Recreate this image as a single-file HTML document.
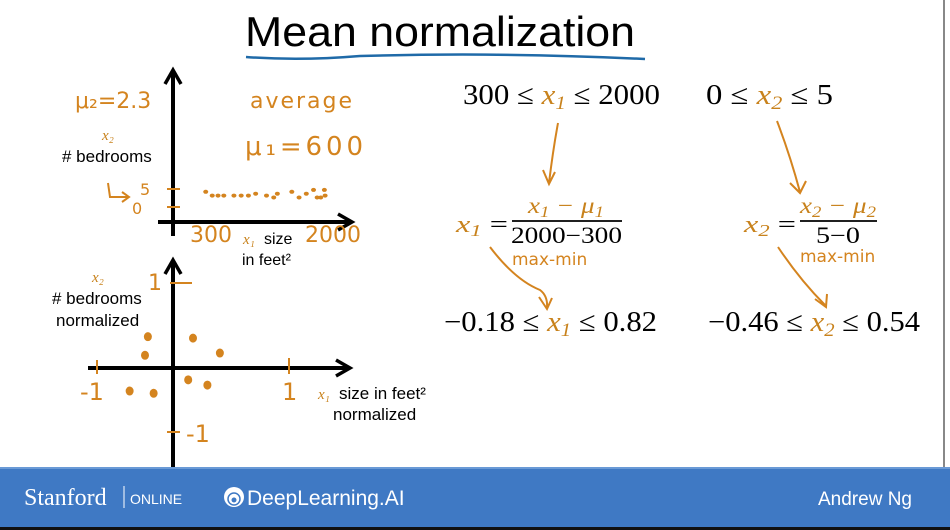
<!DOCTYPE html>
<html><head><meta charset="utf-8"><style>
body{margin:0;width:950px;height:530px;overflow:hidden;background:#fff}
svg{display:block}
.hw{font-family:"Comic Sans MS","DejaVu Sans",sans-serif;fill:#d4841f}
.sans{font-family:"Liberation Sans",sans-serif;fill:#000}
.math{font-family:"Liberation Serif","DejaVu Serif",serif;fill:#000}
.ox{fill:#c8821c;font-style:italic}
</style></head><body>
<svg id="s" width="950" height="530" viewBox="0 0 950 530" xmlns="http://www.w3.org/2000/svg">
<text x="245" y="46" class="sans" font-size="42" textLength="390" lengthAdjust="spacingAndGlyphs">Mean normalization</text>
<path d="M246 57 Q300 61 360 56 Q500 52 645 59" stroke="#1f6aa8" stroke-width="2.5" fill="none"/>
<line x1="944" y1="0" x2="944" y2="468" stroke="#888" stroke-width="2"/>

<g id="top">
<line x1="173" y1="72" x2="173" y2="236" stroke="#000" stroke-width="4"/>
<path d="M165 84 L173 70 L181 84" stroke="#000" stroke-width="3.5" fill="none"/>
<line x1="158" y1="222" x2="350" y2="222" stroke="#000" stroke-width="4"/>
<path d="M338 214 L352 222 L338 230" stroke="#000" stroke-width="3.5" fill="none"/>
<line x1="167" y1="189" x2="180" y2="189" stroke="#d4841f" stroke-width="2"/>
<line x1="167" y1="207" x2="180" y2="207" stroke="#d4841f" stroke-width="2"/>
<text x="140" y="195" class="hw" font-size="16">5</text>
<text x="132" y="214" class="hw" font-size="16">0</text>
<path d="M108 183 L110 197 L128 197 M122 192 L129 197 L122 202" stroke="#d4841f" stroke-width="2" fill="none"/>
<text x="75" y="108" class="hw" font-size="22">μ₂=2.3</text>
<text x="250" y="108" class="hw" font-size="22" textLength="102">average</text>
<text x="245" y="155" class="hw" font-size="26" textLength="118">μ₁=600</text>
<text x="102" y="140" class="math ox" font-size="15">x₂</text>
<text x="62" y="162" class="sans" font-size="17"># bedrooms</text>
<text x="190" y="242" class="hw" font-size="22">300</text>
<text x="305" y="242" class="hw" font-size="22">2000</text>
<text x="243" y="244" class="math ox" font-size="15">x₁</text>
<text x="264" y="244" class="sans" font-size="16">size</text>
<text x="242" y="265" class="sans" font-size="16">in feet²</text>
</g>

<g id="bot">
<line x1="173" y1="262" x2="173" y2="468" stroke="#000" stroke-width="4"/>
<path d="M165 274 L173 260 L181 274" stroke="#000" stroke-width="3.5" fill="none"/>
<line x1="88" y1="368" x2="348" y2="368" stroke="#000" stroke-width="4"/>
<path d="M336 360 L350 368 L336 376" stroke="#000" stroke-width="3.5" fill="none"/>
<line x1="97" y1="360" x2="97" y2="374" stroke="#d4841f" stroke-width="2"/>
<line x1="289" y1="358" x2="289" y2="374" stroke="#d4841f" stroke-width="2"/>
<line x1="170" y1="283" x2="192" y2="283" stroke="#d4841f" stroke-width="2"/>
<line x1="167" y1="432" x2="180" y2="432" stroke="#d4841f" stroke-width="2"/>
<text x="80" y="400" class="hw" font-size="24">-1</text>
<text x="282" y="400" class="hw" font-size="24">1</text>
<text x="148" y="290" class="hw" font-size="22">1</text>
<text x="186" y="442" class="hw" font-size="24">-1</text>
<text x="92" y="282" class="math ox" font-size="15">x₂</text>
<text x="52" y="304" class="sans" font-size="17"># bedrooms</text>
<text x="56" y="326" class="sans" font-size="17">normalized</text>
<text x="318" y="399" class="math ox" font-size="15">x₁</text>
<text x="339" y="399" class="sans" font-size="17">size in feet²</text>
<text x="333" y="420" class="sans" font-size="17">normalized</text>
</g>

<g class="math">
<text x="463" y="104" font-size="28" textLength="197" lengthAdjust="spacingAndGlyphs">300 ≤ <tspan class="ox">x</tspan><tspan class="ox" font-size="19" dy="5">1</tspan><tspan dy="-5"> ≤ 2000</tspan></text>
<text x="706" y="104" font-size="28" textLength="127" lengthAdjust="spacingAndGlyphs">0 ≤ <tspan class="ox">x</tspan><tspan class="ox" font-size="19" dy="5">2</tspan><tspan dy="-5"> ≤ 5</tspan></text>
<path d="M558 123 Q553 150 549 183 M543 170 L549 184 L555 172" stroke="#d4841f" stroke-width="2" fill="none"/>
<path d="M777 121 Q790 155 800 192 M790 183 L800 193 L806 181" stroke="#d4841f" stroke-width="2" fill="none"/>
<text x="456" y="232" font-size="24" textLength="52" lengthAdjust="spacingAndGlyphs"><tspan class="ox">x</tspan><tspan class="ox" font-size="17" dy="4">1</tspan><tspan dy="-4"> =</tspan></text>
<text x="528" y="213" font-size="23" class="ox" textLength="76" lengthAdjust="spacingAndGlyphs">x<tspan font-size="16" dy="4">1</tspan><tspan dy="-4"> − μ</tspan><tspan font-size="16" dy="4">1</tspan></text>
<line x1="512" y1="221" x2="622" y2="221" stroke="#000" stroke-width="1.8"/>
<text x="511" y="243" font-size="23" textLength="111" lengthAdjust="spacingAndGlyphs">2000−300</text>
<text x="744" y="232" font-size="24" textLength="52" lengthAdjust="spacingAndGlyphs"><tspan class="ox">x</tspan><tspan class="ox" font-size="17" dy="4">2</tspan><tspan dy="-4"> =</tspan></text>
<text x="800" y="213" font-size="23" class="ox" textLength="76" lengthAdjust="spacingAndGlyphs">x<tspan font-size="16" dy="4">2</tspan><tspan dy="-4"> − μ</tspan><tspan font-size="16" dy="4">2</tspan></text>
<line x1="800" y1="221" x2="877" y2="221" stroke="#000" stroke-width="1.8"/>
<text x="816" y="243" font-size="23" textLength="44" lengthAdjust="spacingAndGlyphs">5−0</text>
<text x="512" y="265" class="hw" font-size="17">max-min</text>
<text x="800" y="262" class="hw" font-size="17">max-min</text>
<path d="M490 247 Q515 280 540 290 Q548 296 547 308 M539 297 L547 309 L552 298" stroke="#d4841f" stroke-width="2" fill="none"/>
<path d="M778 247 Q800 280 825 305 M815 299 L826 307 L827 294" stroke="#d4841f" stroke-width="2" fill="none"/>
<text x="444" y="331" font-size="28" textLength="213" lengthAdjust="spacingAndGlyphs">−0.18 ≤ <tspan class="ox">x</tspan><tspan class="ox" font-size="19" dy="5">1</tspan><tspan dy="-5"> ≤ 0.82</tspan></text>
<text x="708" y="331" font-size="28" textLength="212" lengthAdjust="spacingAndGlyphs">−0.46 ≤ <tspan class="ox">x</tspan><tspan class="ox" font-size="19" dy="5">2</tspan><tspan dy="-5"> ≤ 0.54</tspan></text>
</g>

<rect x="0" y="467" width="950" height="63" fill="#3f79c4"/>
<rect x="0" y="467" width="950" height="2" fill="#6a9ad6"/>
<rect x="0" y="527" width="950" height="3" fill="#111"/>
<text x="24" y="505" font-family="Liberation Serif,serif" font-size="24" fill="#fff">Stanford</text>
<line x1="124" y1="486" x2="124" y2="508" stroke="#fff" stroke-width="1"/>
<text x="130" y="504" font-family="Liberation Sans,sans-serif" font-size="14" fill="#fff">ONLINE</text>
<circle cx="234" cy="497" r="10" fill="#fff"/>
<circle cx="234" cy="499" r="6" fill="none" stroke="#3f79c4" stroke-width="1.5"/>
<circle cx="234" cy="500" r="2.5" fill="#3f79c4"/>
<text x="247" y="505" font-family="Liberation Sans,sans-serif" font-size="21" fill="#fff">DeepLearning.AI</text>
<text x="818" y="505" font-family="Liberation Sans,sans-serif" font-size="19" fill="#fff">Andrew Ng</text>
</svg>
<script>
// top plot data (size in sqft, bedrooms)
const topSizes = [310, 400, 480, 560, 700, 800, 900, 1000, 1150, 1250, 1300, 1500, 1600, 1700, 1800, 1850, 1900, 1950, 1960];
const topBedrooms = [4, 3, 3, 3, 3, 3, 3, 3.5, 3, 2.5, 3.5, 4, 2.5, 3.5, 4.5, 2.5, 2.5, 4.5, 3];
// bottom plot data (normalized)
const normX = [-0.47, -0.5, 0.0, 0.28, -0.66, -0.41, -0.05, 0.15];
const normY = [0.28, 0.03, 0.26, 0.06, -0.45, -0.48, -0.3, -0.37];
const NS = 'http://www.w3.org/2000/svg';
const sx = v => 205 + (v - 300) * (328 - 205) / 1700;
const sy = v => 207 - v * (207 - 188) / 5;
const nx = v => 193 + v * 96;
const ny = v => 357.5 - v * 74.5;
const topG = document.getElementById('top');
topSizes.forEach((v, i) => {
  const e = document.createElementNS(NS, 'ellipse');
  e.setAttribute('cx', sx(v)); e.setAttribute('cy', sy(topBedrooms[i]));
  e.setAttribute('rx', 2.5); e.setAttribute('ry', 2); e.setAttribute('fill', '#d4841f');
  
  
  topG.appendChild(e);
});
const botG = document.getElementById('bot');
normX.forEach((v, i) => {
  const e = document.createElementNS(NS, 'ellipse');
  e.setAttribute('cx', nx(v)); e.setAttribute('cy', ny(normY[i]));
  e.setAttribute('rx', 4); e.setAttribute('ry', 4.5); e.setAttribute('fill', '#d4841f');
  
  
  botG.appendChild(e);
});
</script>
</body></html>
